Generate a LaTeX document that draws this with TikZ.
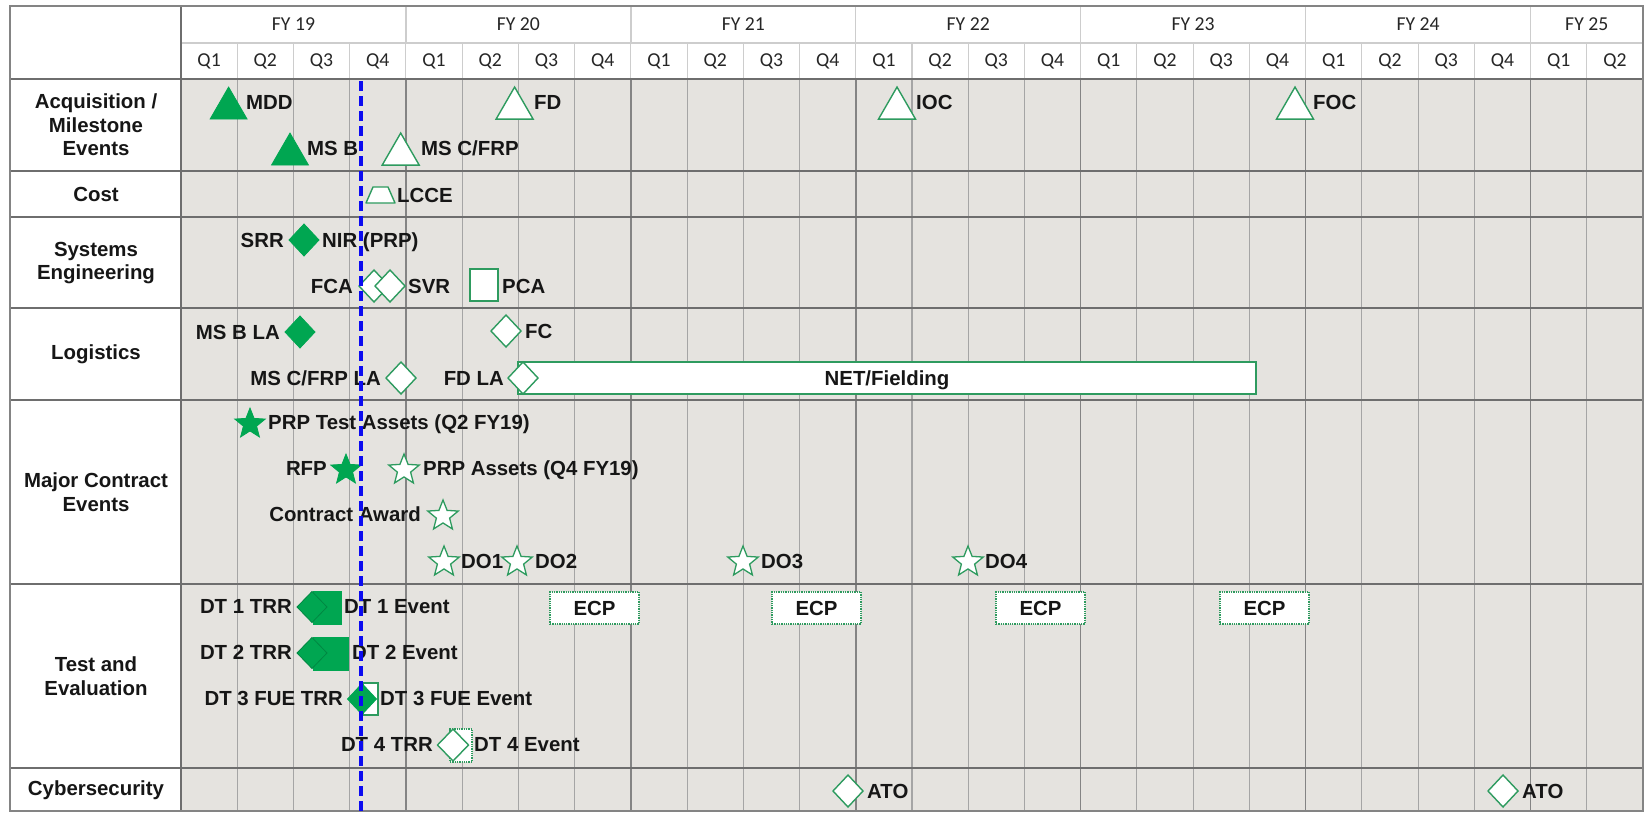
\documentclass[tikz,border=0pt]{standalone}
\usepackage{fontspec}
\setmainfont{Liberation Sans}
\newfontfamily\hdrfont{Carlito}
\usetikzlibrary{shapes.geometric}

\definecolor{evgreen}{RGB}{0,166,81}
\definecolor{darkgreen}{RGB}{0,135,66}
\definecolor{edgegreen}{RGB}{46,155,95}
\definecolor{gridbg}{RGB}{229,227,223}
\definecolor{qline}{RGB}{165,165,165}
\definecolor{fyline}{RGB}{132,132,132}
\definecolor{rowline}{RGB}{110,110,110}
\definecolor{hdrline}{RGB}{205,205,205}
\definecolor{nowblue}{RGB}{12,12,240}
\definecolor{txt}{RGB}{22,22,22}

\newcommand\evfont{\fontsize{20.4pt}{23.7pt}\selectfont\bfseries}
\newcommand\hfont{\hdrfont\fontsize{19.7pt}{22pt}\selectfont}

\begin{document}
\begin{tikzpicture}[x=1pt,y=-1pt,
  lbl/.style={font=\evfont, text=txt, inner sep=0pt, text height=14.6pt, text depth=0pt},
  rowlbl/.style={font=\evfont, text=txt, align=center, inner sep=0pt},
  hdr/.style={font=\hfont, text=black!85, inner sep=0pt},
  tri/.style={regular polygon, regular polygon sides=3, minimum size=42.7pt, inner sep=0pt, outer sep=0pt},
  trifull/.style={tri, fill=evgreen, draw=evgreen, line width=0.8pt},
  triopen/.style={tri, fill=white, draw=edgegreen, line width=1.4pt},
  dia/.style={diamond, minimum width=30pt, minimum height=32pt, inner sep=0pt, outer sep=0pt},
  diafull/.style={dia, fill=evgreen, draw=evgreen, line width=0.8pt},
  diaopen/.style={dia, fill=white, draw=edgegreen, line width=1.4pt},
  st/.style={star, star points=5, star point ratio=2.3, minimum size=32pt, inner sep=0pt, outer sep=0pt},
  stfull/.style={st, fill=evgreen, draw=evgreen, line width=0.8pt},
  stopen/.style={st, fill=white, draw=edgegreen, line width=1.3pt},
  ecpbox/.style={rectangle, fill=white, draw=edgegreen, densely dotted, line width=1.3pt,
    minimum width=89pt, minimum height=32pt, inner sep=0pt, font=\evfont, text=txt},
]
\useasboundingbox (0,0) rectangle (1648,814);
\fill[white] (0,0) rectangle (1648,814);

% grid body
\fill[gridbg] (181,79) rectangle (1643,811);

% quarter and fiscal-year rules
\foreach \i in {1,...,25} {
  \pgfmathsetmacro\xx{181+\i*56.23}
  \draw[qline, line width=1.1pt] (\xx,79) -- (\xx,811);
  \draw[hdrline, line width=1.1pt] (\xx,43) -- (\xx,79);
}
\foreach \k in {1,...,6} {
  \pgfmathsetmacro\xx{181+4*\k*56.23}
  \draw[fyline, line width=1.6pt] (\xx,79) -- (\xx,811);
  \draw[hdrline, line width=1.4pt] (\xx,6) -- (\xx,43);
}
\draw[hdrline, line width=1.4pt] (181,43) -- (1643,43);

% row separators
\foreach \yy in {79,171,217,308,400,584,768}
  \draw[rowline, line width=2.2pt] (10,\yy) -- (1643,\yy);
\draw[rowline, line width=2pt] (181,6) -- (181,811);
\draw[rowline!85, line width=2pt] (10,6) rectangle (1643,811);

% header
\foreach \fy [count=\k from 0] in {19,20,21,22,23,24}
  \node[hdr] (fy\fy) at ({181+(4*\k+2)*56.23},24) {FY \fy};
\node[hdr] (fy25) at ({181+25*56.23},24) {FY 25};
\foreach \i in {0,...,25} {
  \pgfmathtruncatemacro\qq{mod(\i,4)+1}
  \node[hdr] (q\i) at ({181+(\i+0.5)*56.23},61) {Q\qq};
}

% row titles
\node[rowlbl] (rAcq) at (96,125) {Acquisition /\\Milestone\\Events};
\node[rowlbl] (rCost) at (96,194) {Cost};
\node[rowlbl] (rSys) at (96,263) {Systems\\Engineering};
\node[rowlbl] (rLog) at (96,354) {Logistics};
\node[rowlbl] (rMaj) at (96,492) {Major Contract\\Events};
\node[rowlbl] (rTE) at (96,676) {Test and\\Evaluation};
\node[rowlbl] (rCyb) at (96,790) {Cybersecurity};

% acquisition / milestone events
\node[trifull] (mdd) at (228.6,108.4) {};
\node[lbl, anchor=west] (mddT) at (246,102) {MDD};
\node[triopen] (fd) at (514.6,108.4) {};
\node[lbl, anchor=west] (fdT) at (534,102) {FD};
\node[triopen] (ioc) at (897,108.4) {};
\node[lbl, anchor=west] (iocT) at (916,102) {IOC};
\node[triopen] (foc) at (1295,108.4) {};
\node[lbl, anchor=west] (focT) at (1313,102) {FOC};
\node[trifull] (msb) at (290,154.4) {};
\node[lbl, anchor=west] (msbT) at (307,148) {MS B};
\node[triopen] (msc) at (400.7,154.4) {};
\node[lbl, anchor=west] (mscT) at (421,148) {MS C/FRP};

% cost: life-cycle cost estimate marker
\coordinate (lcce) at (380.5,195);
\draw[fill=white, draw=edgegreen, line width=1.4pt, line join=round]
  (366,203) -- (373,187) -- (388,187) -- (395,203) -- cycle;
\node[lbl, anchor=west] (lcceT) at (397,195) {LCCE};

% systems engineering
\node[diafull] (srr) at (304,240) {};
\node[lbl, anchor=east] (srrT) at (284,240) {SRR};
\node[lbl, anchor=west] (nirT) at (322,240) {NIR (PRP)};
\node[diaopen] (fca) at (374,286) {};
\node[diaopen] (svr) at (390,286) {};
\node[lbl, anchor=east] (fcaT) at (353,286) {FCA};
\node[lbl, anchor=west] (svrT) at (408,286) {SVR};
\node[rectangle, minimum width=28pt, minimum height=32pt, inner sep=0pt, fill=white,
  draw=edgegreen, line width=1.4pt] (pca) at (484,285) {};
\node[lbl, anchor=west] (pcaT) at (502,286) {PCA};

% logistics
\node[diafull] (msbla) at (300,332) {};
\node[lbl, anchor=east] (msblaT) at (280,332) {MS B LA};
\node[diaopen] (fc) at (506,331) {};
\node[lbl, anchor=west] (fcT) at (525,331) {FC};
\node[diaopen] (msccla) at (401,378) {};
\node[lbl, anchor=east] (mscclaT) at (381,378) {MS C/FRP LA};
\node[rectangle, minimum width=738pt, minimum height=32pt, inner sep=0pt, fill=white,
  draw=edgegreen, line width=1.4pt] (net) at (887,378) {};
\node[lbl] (netT) at (887,378) {NET/Fielding};
\node[diaopen] (fdla) at (523,378) {};
\node[lbl, anchor=east] (fdlaT) at (504,378) {FD LA};

% major contract events
\node[stfull] (prpt) at (250,424) {};
\node[lbl, anchor=west] (prptT) at (268,422) {PRP Test Assets (Q2 FY19)};
\node[stfull] (rfp) at (346,470) {};
\node[lbl, anchor=east] (rfpT) at (327,468) {RFP};
\node[stopen] (prpa) at (404,470) {};
\node[lbl, anchor=west] (prpaT) at (423,468) {PRP Assets (Q4 FY19)};
\node[stopen] (award) at (443,516) {};
\node[lbl, anchor=east] (awardT) at (421,514) {Contract Award};
\node[stopen] (do1) at (444,562) {};
\node[lbl, anchor=west] (do1T) at (461,561) {DO1};
\node[stopen] (do2) at (517,562) {};
\node[lbl, anchor=west] (do2T) at (535,561) {DO2};
\node[stopen] (do3) at (743,562) {};
\node[lbl, anchor=west] (do3T) at (761,561) {DO3};
\node[stopen] (do4) at (968,562) {};
\node[lbl, anchor=west] (do4T) at (985,561) {DO4};

% test and evaluation
\node[rectangle, minimum width=28pt, minimum height=33pt, inner sep=0pt, fill=evgreen,
  draw=evgreen, line width=0.8pt] (dt1e) at (327,607.5) {};
\node[dia, minimum height=31pt, fill=evgreen, draw=darkgreen, line width=0.8pt] (dt1r) at (312,607) {};
\node[lbl, anchor=east] (dt1rT) at (292,606) {DT 1 TRR};
\node[lbl, anchor=west] (dt1eT) at (344,606) {DT 1 Event};

\node[rectangle, minimum width=35pt, minimum height=33pt, inner sep=0pt, fill=evgreen,
  draw=evgreen, line width=0.8pt] (dt2e) at (330.5,653.5) {};
\node[dia, minimum height=31pt, fill=evgreen, draw=darkgreen, line width=0.8pt] (dt2r) at (312,653) {};
\node[lbl, anchor=east] (dt2rT) at (292,652) {DT 2 TRR};
\node[lbl, anchor=west] (dt2eT) at (352,652) {DT 2 Event};

\node[rectangle, minimum width=15pt, minimum height=32pt, inner sep=0pt, fill=white,
  draw=edgegreen, line width=1.3pt] (dt3e) at (370.5,699) {};
\node[dia, minimum width=29pt, minimum height=31pt, fill=evgreen, draw=evgreen, line width=0.8pt] (dt3r) at (362,699) {};
\node[lbl, anchor=east] (dt3rT) at (343,698) {DT 3 FUE TRR};
\node[lbl, anchor=west] (dt3eT) at (380,698) {DT 3 FUE Event};

\node[rectangle, minimum width=22pt, minimum height=33pt, inner sep=0pt, fill=white,
  draw=edgegreen, densely dotted, line width=1.3pt] (dt4e) at (461,745.5) {};
\node[diaopen, minimum width=31pt] (dt4r) at (453,745) {};
\node[lbl, anchor=east] (dt4rT) at (433,744) {DT 4 TRR};
\node[lbl, anchor=west] (dt4eT) at (474,744) {DT 4 Event};

\node[ecpbox] (ecp1) at (594.5,608) {ECP};
\node[ecpbox] (ecp2) at (816.5,608) {ECP};
\node[ecpbox] (ecp3) at (1040.5,608) {ECP};
\node[ecpbox] (ecp4) at (1264.5,608) {ECP};

% cybersecurity
\node[diaopen] (ato1) at (848,791) {};
\node[lbl, anchor=west] (ato1T) at (867,791) {ATO};
\node[diaopen] (ato2) at (1503,791) {};
\node[lbl, anchor=west] (ato2T) at (1522,791) {ATO};

% status date marker
\coordinate (nowtop) at (361,81);
\coordinate (nowbot) at (361,811);
\draw[nowblue, line width=4pt, dash pattern=on 10pt off 5pt] (nowtop) -- (nowbot);
\end{tikzpicture}
\end{document}
